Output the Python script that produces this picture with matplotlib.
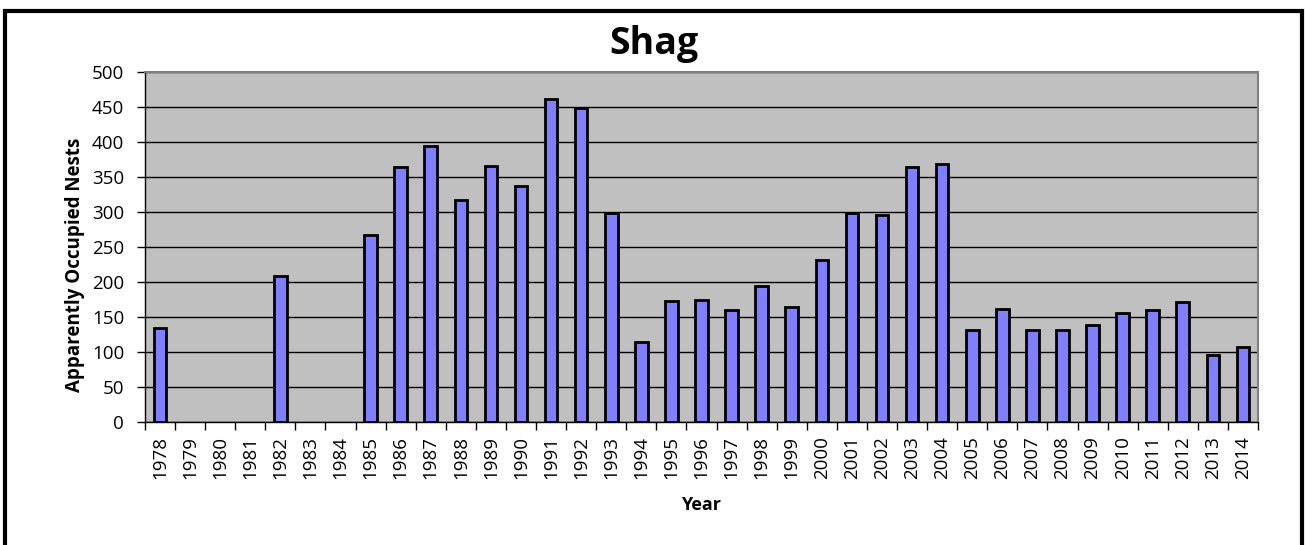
import matplotlib
matplotlib.use("Agg")
import matplotlib.pyplot as plt
from matplotlib.patches import Rectangle
import numpy as np

years = [str(y) for y in range(1978, 2015)]
nests = [134, 0, 0, 0, 209, 0, 0, 267, 364, 395, 317, 365, 337, 462, 448, 299,
         115, 173, 175, 160, 195, 165, 232, 299, 296, 364, 368, 131, 162, 132,
         131, 138, 156, 160, 171, 96, 107]
yticks = list(range(0, 501, 50))

plt.rcParams['font.family'] = ['Open Sans', 'DejaVu Sans']

fig = plt.figure(figsize=(13.07, 5.45), dpi=100)
fig.patch.set_facecolor('white')

# outer chart border (bottom edge cut off)
fig.patches.append(Rectangle((5/1307, -0.05), 1297/1307, 1 - 11/545 + 0.05,
                             transform=fig.transFigure, fill=False,
                             edgecolor='black', linewidth=3, zorder=0))

ax = fig.add_axes([145/1307, 1 - 422/545, (1258 - 145)/1307, (422 - 72)/545])
ax.set_facecolor('#C0C0C0')

x = np.arange(len(years))
vals = [v if v > 0 else np.nan for v in nests]
ax.bar(x, vals, width=0.42, color='#8080FF', edgecolor='black', linewidth=2, zorder=3)

ax.set_xlim(-0.5, len(years) - 0.5)
ax.set_ylim(0, 500)
ax.set_yticks(yticks)
ax.set_yticklabels([str(t) for t in yticks], fontsize=13.5)
ax.yaxis.grid(True, color='black', linewidth=1)
ax.set_axisbelow(True)

ax.set_xticks(x)
ax.set_xticklabels(years, rotation=90, fontsize=13.5)
ax.set_xticks(np.arange(-0.5, len(years) + 0.5, 1), minor=True)
ax.tick_params(axis='x', which='major', length=0, pad=10)
ax.tick_params(axis='x', which='minor', length=6, width=1, color='black', direction='out')
ax.tick_params(axis='y', length=6, width=1, color='black', direction='out', pad=9)

for side in ['top', 'right']:
    ax.spines[side].set_color('#808080')
    ax.spines[side].set_linewidth(1.5)
for side in ['left', 'bottom']:
    ax.spines[side].set_color('black')
    ax.spines[side].set_linewidth(1)

fig.text(0.5, 1 - 54/545, 'Shag', fontsize=27, fontweight='bold',
         ha='center', va='baseline')
ax.set_xlabel('Year', fontsize=13, fontweight='bold', labelpad=12)
ax.set_ylabel('Apparently Occupied Nests', fontsize=13.5, fontweight='bold')
ax.yaxis.set_label_coords((85 - 145) / 1113, (422 - 265) / 350)

fig.savefig('out.png', dpi=100, facecolor='white')
